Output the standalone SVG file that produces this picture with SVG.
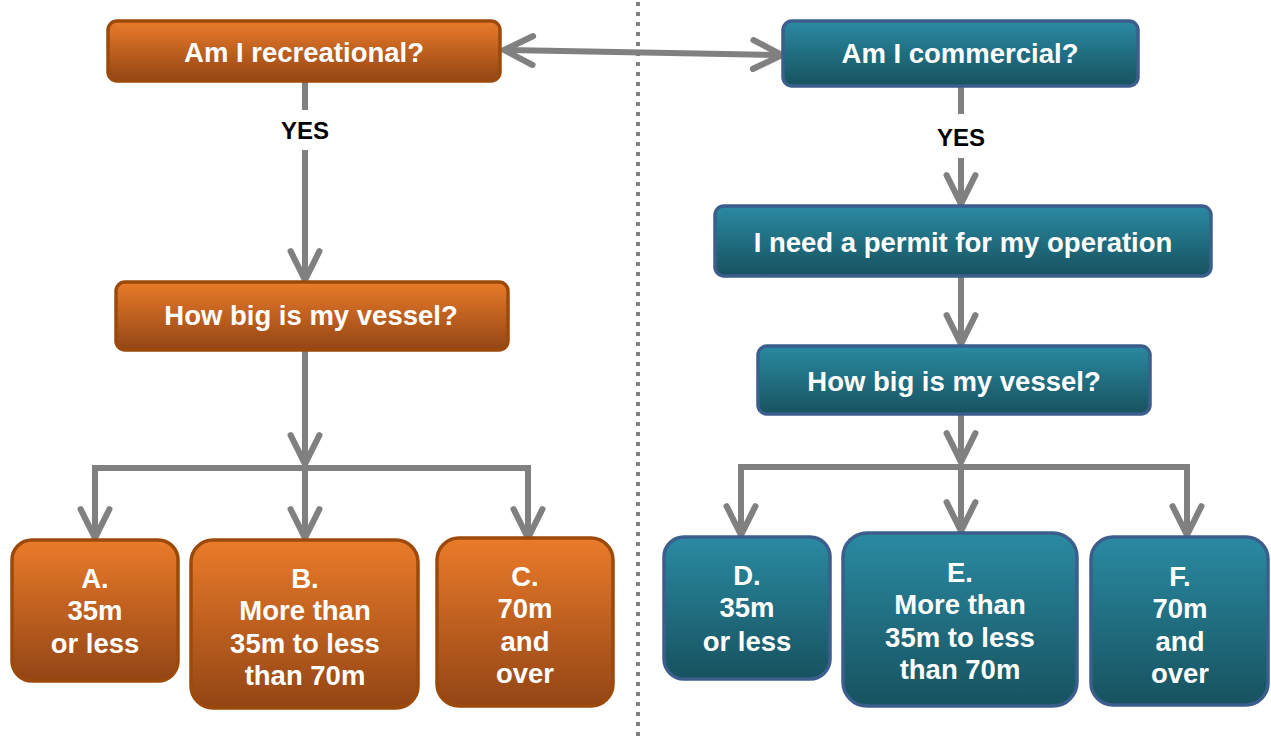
<svg xmlns="http://www.w3.org/2000/svg" width="1271" height="742" viewBox="0 0 1271 742">
<defs>
<linearGradient id="og" x1="0" y1="0" x2="0" y2="1"><stop offset="0" stop-color="#ea7b2a"/><stop offset="1" stop-color="#934515"/></linearGradient>
<linearGradient id="tg" x1="0" y1="0" x2="0" y2="1"><stop offset="0" stop-color="#2a8aa2"/><stop offset="1" stop-color="#17525f"/></linearGradient>
<marker id="ah" viewBox="0 0 10 10" refX="9" refY="5" markerWidth="6" markerHeight="6" orient="auto-start-reverse" markerUnits="strokeWidth">
<path d="M1,1 L9,5 L1,9" fill="none" stroke="#808080" stroke-width="1.7" stroke-linecap="round" stroke-linejoin="miter"/>
</marker>
<style>
.o{fill:url(#og);stroke:#9c4a0b;stroke-width:3.5}
.t{fill:url(#tg);stroke:#3b5e8c;stroke-width:3.5}
.lbl{font-family:"Liberation Sans",Arial,sans-serif;font-weight:bold;font-size:27.5px;fill:#fff;text-anchor:middle}
.yes{font-family:"Liberation Sans",Arial,sans-serif;font-weight:bold;font-size:24px;fill:#000;text-anchor:middle}
.c{fill:none;stroke:#808080;stroke-width:6}
</style>
</defs>
<rect width="1271" height="742" fill="#fff"/>
<line x1="638" y1="2" x2="638" y2="742" stroke="#808080" stroke-width="4" stroke-dasharray="4,6"/>
<g id="connectors">
<line class="c" x1="305" y1="81" x2="305" y2="110"/>
<line class="c" x1="305" y1="150" x2="305" y2="280" marker-end="url(#ah)"/>
<line class="c" x1="305" y1="350" x2="305" y2="464" marker-end="url(#ah)"/>
<polyline class="c" points="95,538 95,468 528,468 528,538" marker-start="url(#ah)" marker-end="url(#ah)"/>
<line class="c" x1="305" y1="468" x2="305" y2="538" marker-end="url(#ah)"/>
<line class="c" x1="504" y1="50" x2="782" y2="55" marker-start="url(#ah)" marker-end="url(#ah)"/>
<line class="c" x1="961" y1="86" x2="961" y2="114"/>
<line class="c" x1="961" y1="158" x2="961" y2="204" marker-end="url(#ah)"/>
<line class="c" x1="961" y1="276" x2="961" y2="344" marker-end="url(#ah)"/>
<line class="c" x1="961" y1="414" x2="961" y2="462" marker-end="url(#ah)"/>
<polyline class="c" points="741,535 741,467 1187,467 1187,535" marker-start="url(#ah)" marker-end="url(#ah)"/>
<line class="c" x1="961" y1="467" x2="961" y2="531" marker-end="url(#ah)"/>
</g>
<text class="yes" x="305" y="139">YES</text>
<text class="yes" x="961" y="146">YES</text>
<g id="recreational"><rect class="o" x="108" y="21" width="392" height="60" rx="9"/><text class="lbl" x="304" y="62">Am I recreational?</text></g>
<g id="howbig-left"><rect class="o" x="116" y="282" width="392" height="68" rx="9"/><text class="lbl" x="311" y="325">How big is my vessel?</text></g>
<g id="A"><rect class="o" x="12" y="540" width="166" height="141" rx="20"/><text class="lbl" x="95" y="588">A.</text><text class="lbl" x="95" y="620">35m</text><text class="lbl" x="95" y="653">or less</text></g>
<g id="B"><rect class="o" x="191" y="540" width="227" height="168" rx="22"/><text class="lbl" x="305" y="588">B.</text><text class="lbl" x="305" y="620">More than</text><text class="lbl" x="305" y="653">35m to less</text><text class="lbl" x="305" y="685">than 70m</text></g>
<g id="C"><rect class="o" x="437" y="538" width="176" height="168" rx="22"/><text class="lbl" x="525" y="586">C.</text><text class="lbl" x="525" y="618">70m</text><text class="lbl" x="525" y="651">and</text><text class="lbl" x="525" y="683">over</text></g>
<g id="commercial"><rect class="t" x="783" y="21" width="355" height="65" rx="9"/><text class="lbl" x="960" y="63">Am I commercial?</text></g>
<g id="permit"><rect class="t" x="715" y="206" width="496" height="70" rx="9"/><text class="lbl" x="963" y="252">I need a permit for my operation</text></g>
<g id="howbig-right"><rect class="t" x="758" y="346" width="392" height="68" rx="9"/><text class="lbl" x="954" y="391">How big is my vessel?</text></g>
<g id="D"><rect class="t" x="664" y="537" width="166" height="142" rx="20"/><text class="lbl" x="747" y="585">D.</text><text class="lbl" x="747" y="617">35m</text><text class="lbl" x="747" y="651">or less</text></g>
<g id="E"><rect class="t" x="843" y="533" width="234" height="173" rx="24"/><text class="lbl" x="960" y="582">E.</text><text class="lbl" x="960" y="614">More than</text><text class="lbl" x="960" y="647">35m to less</text><text class="lbl" x="960" y="679">than 70m</text></g>
<g id="F"><rect class="t" x="1091" y="537" width="177" height="168" rx="22"/><text class="lbl" x="1180" y="586">F.</text><text class="lbl" x="1180" y="618">70m</text><text class="lbl" x="1180" y="651">and</text><text class="lbl" x="1180" y="683">over</text></g>
</svg>
